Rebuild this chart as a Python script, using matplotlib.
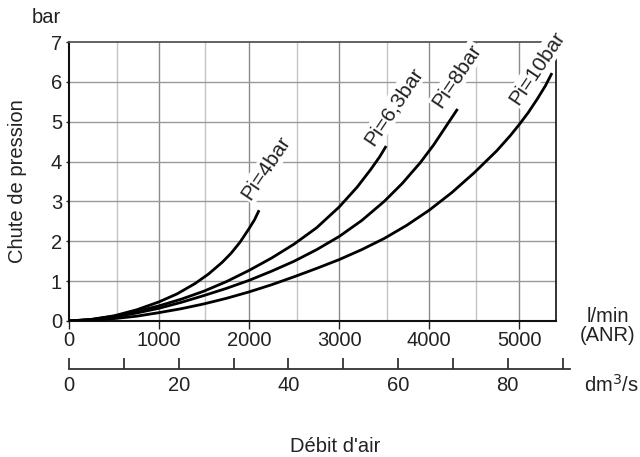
import matplotlib
matplotlib.use("Agg")
import matplotlib.pyplot as plt

plt.rcParams['font.family'] = ['Liberation Sans', 'DejaVu Sans']

# Data (l/min ANR vs bar)
x_4 = [0, 250, 500, 750, 1000, 1200, 1400, 1550, 1700, 1800, 1900, 2000, 2060, 2111]
y_4 = [0, 0.04, 0.13, 0.28, 0.48, 0.68, 0.94, 1.18, 1.47, 1.70, 1.98, 2.32, 2.54, 2.78]

x_63 = [0, 250, 500, 750, 1000, 1250, 1500, 1750, 2000, 2250, 2500, 2750, 3000, 3200,
        3350, 3450, 3522]
y_63 = [0, 0.04, 0.12, 0.24, 0.38, 0.55, 0.75, 0.99, 1.27, 1.58, 1.93, 2.34, 2.86, 3.36,
        3.80, 4.12, 4.39]

x_8 = [0, 250, 500, 750, 1000, 1250, 1500, 1750, 2000, 2250, 2500, 2750, 3000, 3250,
       3500, 3700, 3900, 4050, 4200, 4315]
y_8 = [0, 0.03, 0.10, 0.20, 0.32, 0.47, 0.64, 0.82, 1.02, 1.25, 1.50, 1.79, 2.12, 2.52,
       3.00, 3.45, 3.97, 4.42, 4.93, 5.32]

x_10 = [0, 250, 500, 750, 1000, 1250, 1500, 1750, 2000, 2250, 2500, 2750, 3000, 3250,
        3500, 3750, 4000, 4250, 4500, 4750, 4900, 5000, 5100, 5200, 5290, 5363]
y_10 = [0, 0.02, 0.06, 0.12, 0.21, 0.31, 0.43, 0.57, 0.73, 0.91, 1.11, 1.32, 1.54, 1.79,
        2.07, 2.40, 2.78, 3.22, 3.72, 4.27, 4.65, 4.93, 5.23, 5.57, 5.90, 6.22]

curves = [(x_4, y_4), (x_63, y_63), (x_8, y_8), (x_10, y_10)]
labels = ["Pi=4bar", "Pi=6,3bar", "Pi=8bar", "Pi=10bar"]
label_pos = [(2189, 3.84), (3600, 5.38), (4310, 6.14), (5200, 6.35)]

x_major = [0, 1000, 2000, 3000, 4000, 5000]
x_minor = [530, 1510, 2530, 3530, 4520]
y_ticks = [0, 1, 2, 3, 4, 5, 6, 7]
dm_ticks = [0, 10, 20, 30, 40, 50, 60, 70, 80, 90]
dm_labels = ["0", "", "20", "", "40", "", "60", "", "80", ""]

W, H = 640, 457
fig = plt.figure(figsize=(6.4, 4.57), dpi=100)

def px(l, t, r, b):
    return [l / W, 1 - b / H, (r - l) / W, (b - t) / H]

FS = 14.5
TC = '#222222'

ax = fig.add_axes(px(69, 42, 556, 321))
ax.set_xlim(0, 5408)
ax.set_ylim(0, 7)

for xv in x_minor:
    ax.axvline(xv, color='#c4c4c4', lw=1.0, zorder=1)
for xv in x_major[1:]:
    ax.axvline(xv, color='#8a8a8a', lw=1.0, zorder=1)
for yv in y_ticks[1:-1]:
    ax.axhline(yv, color='#999999', lw=1.0, zorder=1)

for (xs, ys) in curves:
    ax.plot(xs, ys, color='black', lw=2.0, zorder=3, solid_capstyle='butt',
            solid_joinstyle='round', antialiased=True)

for lab, (lx, ly) in zip(labels, label_pos):
    ax.text(lx, ly, lab, rotation=56, ha='center', va='center', fontsize=15,
            color=TC, zorder=5, rotation_mode='anchor',
            bbox=dict(facecolor='white', edgecolor='none', pad=1.0))

ax.set_xticks(x_major)
ax.set_xticklabels([str(v) for v in x_major])
ax.set_yticks(y_ticks)
ax.tick_params(axis='x', direction='out', length=6, width=1, labelsize=FS,
               colors=TC, pad=1)
ax.tick_params(axis='y', direction='out', length=2, width=1, labelsize=FS,
               colors=TC, pad=3)
for s in ['left', 'bottom']:
    ax.spines[s].set_linewidth(1.5)
    ax.spines[s].set_color('#111111')
ax.spines['right'].set_linewidth(1.3)
ax.spines['right'].set_color('#222222')
ax.spines['top'].set_linewidth(1.3)
ax.spines['top'].set_color('#555555')

# secondary dm3/s axis
ax2 = fig.add_axes(px(69, 300, 570, 369))
ax2.set_xlim(0, 91.36)
ax2.set_ylim(0, 1)
ax2.patch.set_visible(False)
for s in ['left', 'right', 'top']:
    ax2.spines[s].set_visible(False)
ax2.spines['bottom'].set_linewidth(1.3)
ax2.spines['bottom'].set_color('#333333')
ax2.set_yticks([])
ax2.set_xticks(dm_ticks)
ax2.set_xticklabels(dm_labels)
ax2.tick_params(axis='x', direction='in', length=8, width=1.2, labelsize=FS,
                colors=TC, pad=5)

fig.text(46.5 / W, 1 - 17.5 / H, "bar", ha='center', va='center', fontsize=FS, color=TC)
fig.text(18 / W, 1 - 181 / H, "Chute de pression", rotation=90, ha='center', va='center',
         fontsize=FS, color=TC)
fig.text(608 / W, 1 - 326 / H, "l/min\n(ANR)", ha='center', va='center', fontsize=FS,
         color=TC, linespacing=0.95)
fig.text(611 / W, 1 - 385 / H, "dm$^3$/s", ha='center', va='center', fontsize=FS,
         color=TC)
fig.text(335 / W, 1 - 447 / H, "Débit d'air", ha='center', va='center', fontsize=FS,
         color=TC)

fig.savefig("out.png", dpi=100)
